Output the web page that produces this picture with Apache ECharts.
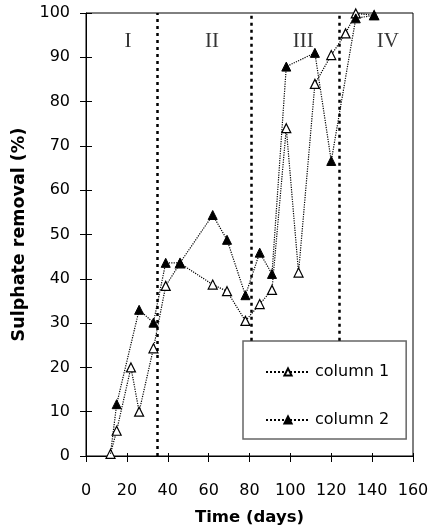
<!DOCTYPE html>
<html>
<head>
<meta charset="utf-8">
<script src="https://cdn.jsdelivr.net/npm/echarts@6/dist/echarts.min.js"></script>
<style>html,body{margin:0;padding:0;background:#fff}#c{width:432px;height:531px}</style>
</head>
<body>
<div id="c"></div>
<script>
// Data
const col1Days = [12, 15, 22, 26, 33, 39, 46, 62, 69, 78, 85, 91, 98, 104, 112, 120, 127, 132, 141];
const col1Values = [0.5, 5.7, 20, 10, 24.3, 38.4, 43.5, 38.7, 37.2, 30.5, 34.3, 37.5, 74, 41.4, 84, 90.5, 95.4, 99.9, 99.5];
const col2Days = [12, 15, 26, 33, 39, 46, 62, 69, 78, 85, 91, 98, 112, 120, 132, 141];
const col2Values = [0.5, 11.7, 33, 30.1, 43.6, 43.6, 54.4, 48.8, 36.3, 45.9, 41.1, 87.9, 91, 66.6, 98.8, 99.5];
const phaseBoundaries = [35, 81, 124];
const phaseLabels = ['I', 'II', 'III', 'IV'];
const phaseLabelDays = [20.5, 61.6, 106.3, 147.7];
const xTicks = [0, 20, 40, 60, 80, 100, 120, 140, 160];
const yTicks = [0, 10, 20, 30, 40, 50, 60, 70, 80, 90, 100];

const chart = echarts.init(document.getElementById('c'), null, {renderer: 'canvas'});
const font = 'DejaVu Sans, Liberation Sans, sans-serif';
const lineStyle = {color: '#000', width: 1.2, type: 'dotted'};

const col1Data = col1Days.map((d, i) => [d, col1Values[i]]);
const col2Data = col2Days.map((d, i) => {
  const item = {value: [d, col2Values[i]]};
  if (i === 0) item.symbol = 'none';
  return item;
});

const boundaryLines = phaseBoundaries.map((d, i) => [
  {coord: [d, i === 0 ? 0 : 26]},
  {coord: [d, 100]}
]);

chart.setOption({
  animation: false,
  textStyle: {fontFamily: font},
  grid: {left: 86, right: 19, top: 13, bottom: 75, show: true, borderColor: '#000', borderWidth: 1, backgroundColor: 'transparent'},
  legend: {
    data: ['column 1', 'column 2'],
    orient: 'vertical',
    left: 243, top: 341,
    itemWidth: 44, itemHeight: 9, itemGap: 32,
    padding: [23, 17, 11, 22],
    borderColor: '#666', borderWidth: 1.5,
    textStyle: {fontFamily: font, fontSize: 16, color: '#000'}
  },
  xAxis: [{
    type: 'value', min: 0, max: 160, interval: 20,
    name: 'Time (days)', nameLocation: 'middle', nameGap: 53,
    nameTextStyle: {fontFamily: font, fontSize: 16.5, fontWeight: 'bold', color: '#000'},
    axisLine: {show: true, onZero: false, lineStyle: {color: '#000', width: 1}},
    axisTick: {show: true, length: 6, lineStyle: {color: '#000'}},
    axisLabel: {fontFamily: font, fontSize: 16, color: '#000', margin: 27},
    splitLine: {show: false}
  }, {
    type: 'value', min: 0, max: 160, interval: 20, position: 'bottom',
    axisLine: {show: false}, axisLabel: {show: false}, splitLine: {show: false},
    axisTick: {show: true, inside: true, length: 3, lineStyle: {color: '#000'}}
  }],
  yAxis: [{
    type: 'value', min: 0, max: 100, interval: 10,
    name: 'Sulphate removal (%)', nameLocation: 'middle', nameGap: 58,
    nameTextStyle: {fontFamily: font, fontSize: 17.5, fontWeight: 'bold', color: '#000'},
    axisLine: {show: true, onZero: false, lineStyle: {color: '#000', width: 1}},
    axisTick: {show: true, length: 6, lineStyle: {color: '#000'}},
    axisLabel: {fontFamily: font, fontSize: 16, color: '#000', margin: 16},
    splitLine: {show: false}
  }, {
    type: 'value', min: 0, max: 100, interval: 10, position: 'left',
    axisLine: {show: false}, axisLabel: {show: false}, splitLine: {show: false},
    axisTick: {show: true, inside: true, length: 6, lineStyle: {color: '#000'}}
  }],
  series: [
    {
      name: 'boundaries', type: 'line', data: [], silent: true,
      markLine: {
        symbol: 'none', silent: true, label: {show: false},
        lineStyle: {color: '#000', width: 2.5, type: [3, 4]},
        data: boundaryLines
      }
    },
    {
      name: 'phases', type: 'scatter', symbolSize: 0, silent: true,
      data: phaseLabels.map((l, i) => ({name: l, value: [phaseLabelDays[i], 93.5]})),
      label: {show: true, position: 'inside', formatter: p => p.name,
        fontFamily: 'Liberation Serif, DejaVu Serif, serif', fontSize: 21, color: '#000'}
    },
    {
      name: 'column 1', type: 'line', data: col1Data,
      symbol: 'triangle', symbolSize: 9, showAllSymbol: true, z: 3,
      lineStyle: lineStyle,
      itemStyle: {color: '#fff', borderColor: '#000', borderWidth: 1.2}
    },
    {
      name: 'column 2', type: 'line', data: col2Data,
      symbol: 'triangle', symbolSize: 9, showAllSymbol: true, z: 4,
      lineStyle: lineStyle,
      itemStyle: {color: '#000', borderColor: '#000', borderWidth: 1}
    }
  ]
});
</script>
</body>
</html>
